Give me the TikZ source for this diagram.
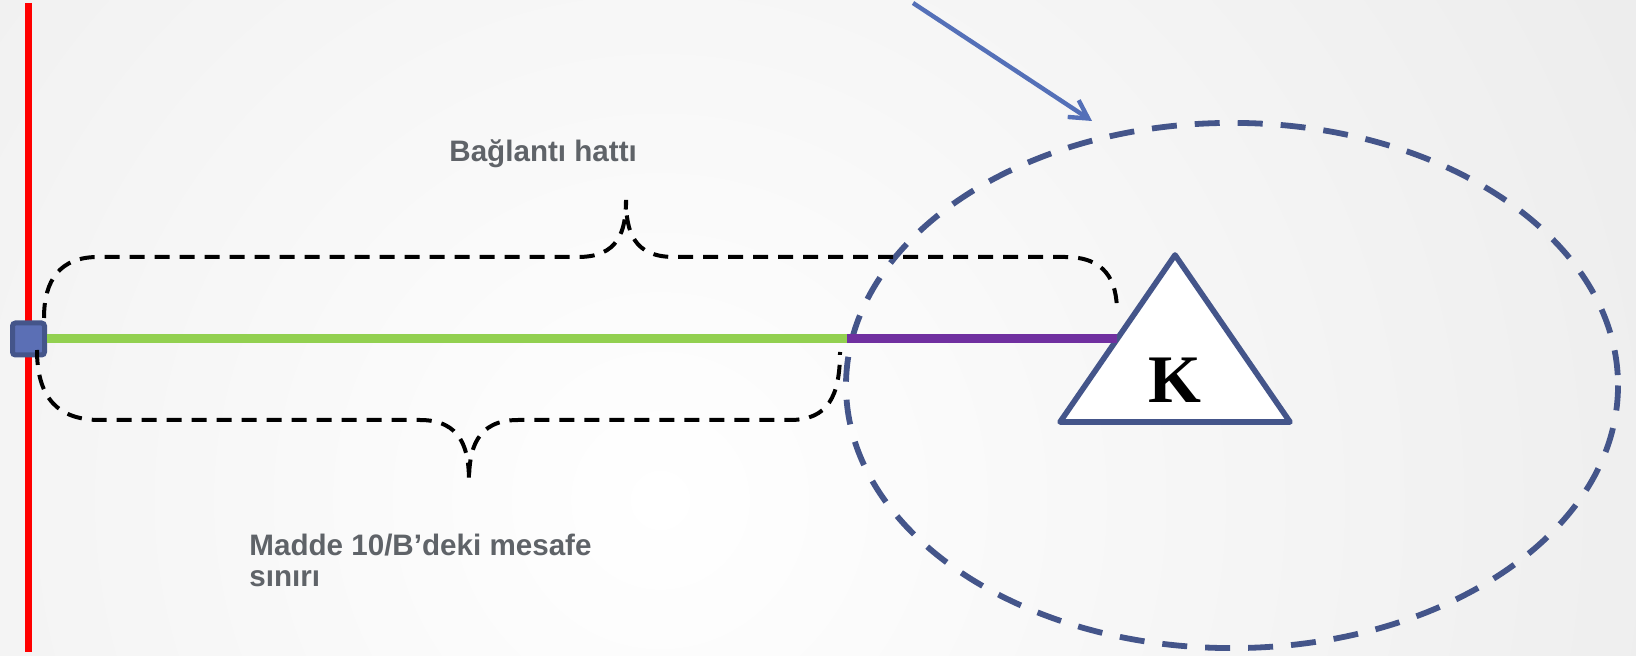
\documentclass[tikz,border=0pt]{standalone}
\usepackage{fontspec}
\setmainfont{Liberation Serif}
\newfontfamily\labelfont{Liberation Sans}
\usetikzlibrary{arrows.meta}
\definecolor{bggray}{RGB}{234,234,234}
\definecolor{zoneblue}{RGB}{68,85,138}
\definecolor{sqfill}{RGB}{91,111,181}
\definecolor{arrowblue}{RGB}{84,112,184}
\definecolor{linegreen}{RGB}{146,208,80}
\definecolor{linepurple}{RGB}{112,48,160}
\definecolor{textgray}{RGB}{95,99,104}
\begin{document}
\begin{tikzpicture}[x=0.5pt,y=-0.5pt,
  bracestyle/.style={draw=black, line width=2pt, dash pattern=on 7.5pt off 5pt},
  zonestyle/.style={draw=zoneblue, line width=2.9pt, dash pattern=on 12.5pt off 9pt},
  lbl/.style={font=\labelfont\bfseries\fontsize{14.8pt}{15.5pt}\selectfont, text=textgray, inner sep=0pt, align=left},
  linkline/.style={line width=4.5pt},
  sqbox/.style={draw=zoneblue, fill=sqfill, line width=2.5pt, minimum size=16pt, inner sep=0pt, rounded corners=1.5pt},
  tristyle/.style={draw=zoneblue, fill=white, line width=2.8pt, line join=round},
  arrowstyle/.style={draw=arrowblue, line width=2.2pt, -{Straight Barb[length=9pt,width=10pt]}}
]
\path[use as bounding box] (0,0) rectangle (1636,656);
\begin{scope}
  \clip (0,0) rectangle (1636,656);
  \shade[inner color=white, outer color=bggray] (660,500) circle (1250);
\end{scope}

% red boundary line
\coordinate (rtop) at (28.5,3);
\coordinate (rbot) at (28.5,652);
\draw[red, line width=3.1pt] (rtop) -- (rbot);

% dashed zone ellipse
\draw[zonestyle] (1232,385.5) ellipse [x radius=386, y radius=262.6];

% arrow pointing at the zone
\coordinate (atail) at (913,3);
\coordinate (ahead) at (1092,121);
\draw[arrowstyle] (atail) -- (ahead);

% triangle K
\coordinate (tapex) at (1175,255);
\coordinate (tleft) at (1060,422);
\coordinate (tright) at (1290,422);
\draw[tristyle] (tapex) -- (tright) -- (tleft) -- cycle;
\node[font=\bfseries\fontsize{34pt}{34pt}\selectfont, inner sep=0pt, anchor=base] (K) at (1175,403) {K};

% connection line
\node[sqbox] (sq) at (28.5,339) {};
\coordinate (mid) at (847,339);
\coordinate (kleft) at (1117,339);
\draw[linkline, linegreen] (sq.east) -- (mid);
\draw[linkline, linepurple] (mid) -- (kleft);

% upper brace
\draw[bracestyle] (44,318) .. controls (44,280) and (60,257) .. (98,257)
  -- (578,257) .. controls (618,257) and (626,232) .. (626,200)
  .. controls (626,232) and (634,257) .. (674,257)
  -- (1065,257) .. controls (1105,257) and (1117,280) .. (1117,312);

% lower brace
\draw[bracestyle] (37,350) .. controls (37,398) and (58,420) .. (100,420)
  -- (420,420) .. controls (462,420) and (469,450) .. (469,481)
  .. controls (469,450) and (476,420) .. (518,420)
  -- (790,420) .. controls (828,420) and (840,396) .. (840,352);

% labels
\node[lbl, anchor=base west] (lblA) at (449,162) {Bağlantı hattı};
\node[lbl, anchor=north west] (lblB) at (249,534) {Madde 10/B’deki mesafe\\sınırı};
\end{tikzpicture}
\end{document}
